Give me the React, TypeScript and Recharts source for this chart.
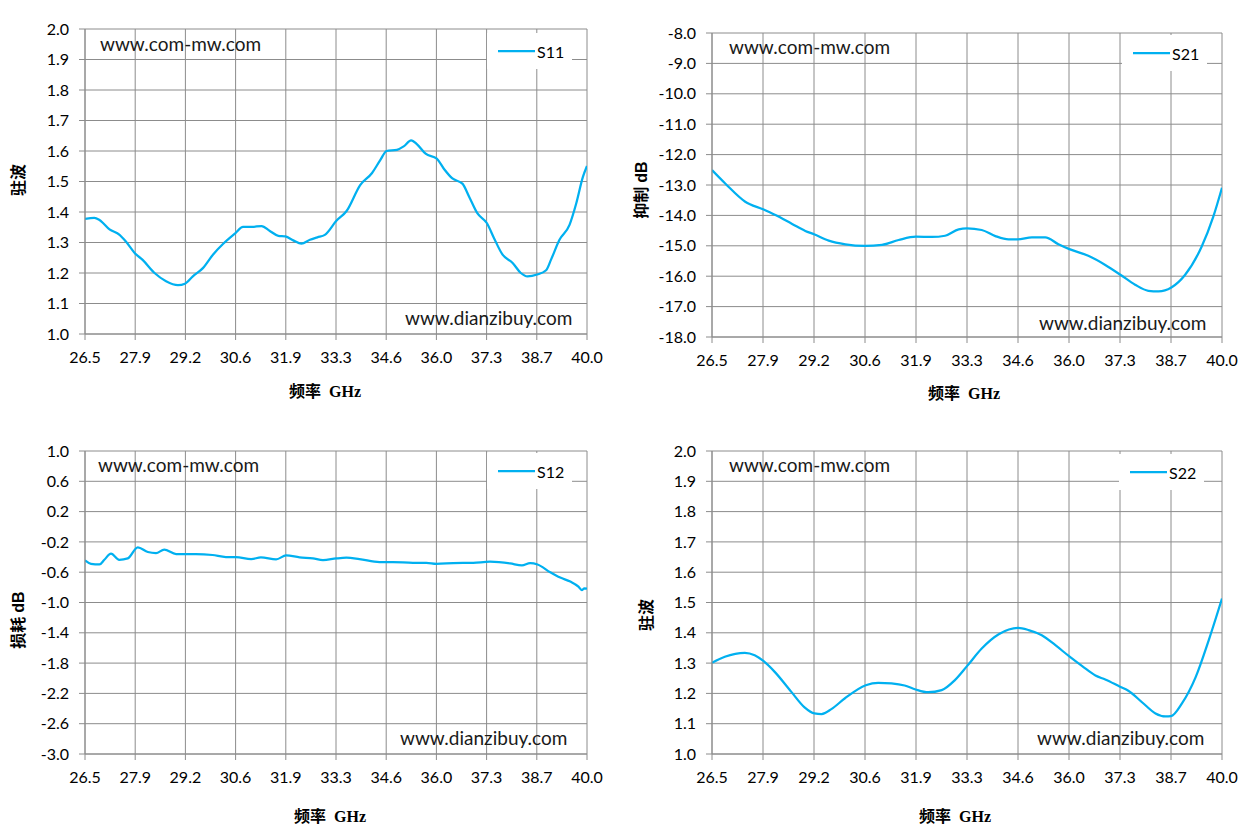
import React from 'react';
import { LineChart, Line, XAxis, YAxis, CartesianGrid, Legend } from 'recharts';

const xTicks = [26.5, 27.85, 29.2, 30.55, 31.9, 33.25, 34.6, 35.95, 37.3, 38.65, 40.0];
const xTickLabels = ['26.5', '27.9', '29.2', '30.6', '31.9', '33.3', '34.6', '36.0', '37.3', '38.7', '40.0'];

const vswrTicks = [1.0, 1.1, 1.2, 1.3, 1.4, 1.5, 1.6, 1.7, 1.8, 1.9, 2.0];
const s21Ticks = [-18, -17, -16, -15, -14, -13, -12, -11, -10, -9, -8];
const s12Ticks = [-3.0, -2.6, -2.2, -1.8, -1.4, -1.0, -0.6, -0.2, 0.2, 0.6, 1.0];

const s11Freq = [26.5, 26.75, 26.89, 27.16, 27.43, 27.6, 27.84, 28.05, 28.37, 28.68, 29.0, 29.19, 29.4, 29.67, 29.94, 30.21, 30.54, 30.75, 30.98, 31.25, 31.47, 31.7, 31.89, 32.1, 32.32, 32.55, 32.75, 32.95, 33.26, 33.54, 33.9, 34.22, 34.44, 34.61, 34.89, 35.07, 35.27, 35.43, 35.66, 35.96, 36.15, 36.38, 36.65, 36.83, 37.05, 37.31, 37.5, 37.73, 38.0, 38.22, 38.4, 38.66, 38.9, 39.03, 39.26, 39.53, 39.71, 39.89, 40.0];
const s11Values = [1.377, 1.381, 1.374, 1.343, 1.325, 1.303, 1.265, 1.243, 1.2, 1.173, 1.16, 1.165, 1.189, 1.216, 1.26, 1.295, 1.33, 1.351, 1.351, 1.354, 1.338, 1.322, 1.32, 1.307, 1.296, 1.309, 1.317, 1.325, 1.371, 1.404, 1.488, 1.528, 1.57, 1.6, 1.604, 1.615, 1.635, 1.622, 1.591, 1.575, 1.542, 1.51, 1.493, 1.45, 1.396, 1.363, 1.314, 1.26, 1.233, 1.2, 1.189, 1.195, 1.209, 1.243, 1.309, 1.358, 1.428, 1.515, 1.551];

const s21Freq = [26.5, 26.85, 27.38, 27.85, 28.18, 28.62, 28.97, 29.2, 29.59, 30.03, 30.55, 31.0, 31.44, 31.9, 32.32, 32.67, 33.03, 33.25, 33.64, 34.0, 34.35, 34.59, 34.97, 35.32, 35.67, 35.96, 36.46, 36.91, 37.32, 37.7, 38.05, 38.32, 38.66, 39.02, 39.46, 39.77, 40.0];
const s21Values = [-12.51, -12.95, -13.55, -13.8, -13.99, -14.28, -14.51, -14.62, -14.83, -14.95, -15.0, -14.97, -14.81, -14.7, -14.71, -14.67, -14.46, -14.43, -14.48, -14.68, -14.79, -14.79, -14.72, -14.72, -14.95, -15.11, -15.33, -15.63, -15.96, -16.28, -16.48, -16.5, -16.37, -15.96, -15.03, -14.04, -13.09];

const s12Freq = [26.5, 26.66, 26.89, 27.02, 27.2, 27.42, 27.65, 27.92, 28.19, 28.41, 28.63, 28.95, 29.22, 29.48, 29.93, 30.29, 30.56, 30.97, 31.23, 31.64, 31.91, 32.27, 32.63, 32.9, 33.26, 33.53, 33.88, 34.42, 34.78, 35.32, 35.68, 35.95, 36.4, 36.94, 37.39, 37.93, 38.25, 38.47, 38.67, 39.01, 39.28, 39.55, 39.77, 39.86, 39.93, 40.0];
const s12Values = [-0.444, -0.489, -0.498, -0.436, -0.356, -0.436, -0.418, -0.271, -0.333, -0.347, -0.302, -0.36, -0.36, -0.36, -0.373, -0.4, -0.4, -0.427, -0.404, -0.431, -0.378, -0.404, -0.418, -0.44, -0.418, -0.409, -0.427, -0.467, -0.467, -0.476, -0.476, -0.489, -0.48, -0.476, -0.462, -0.484, -0.511, -0.48, -0.498, -0.6, -0.671, -0.724, -0.791, -0.836, -0.813, -0.818];

const s22Freq = [26.5, 26.84, 27.37, 27.63, 27.86, 28.16, 28.6, 28.95, 29.21, 29.4, 29.66, 30.02, 30.57, 30.9, 31.25, 31.6, 31.89, 32.22, 32.58, 32.93, 33.25, 33.64, 34.09, 34.6, 34.88, 35.23, 35.59, 35.95, 36.3, 36.65, 36.91, 37.3, 37.53, 37.89, 38.24, 38.5, 38.65, 38.94, 39.3, 39.65, 40.0];
const s22Values = [1.301, 1.321, 1.334, 1.326, 1.307, 1.271, 1.205, 1.154, 1.134, 1.132, 1.148, 1.184, 1.227, 1.235, 1.233, 1.226, 1.213, 1.204, 1.211, 1.244, 1.29, 1.348, 1.395, 1.416, 1.409, 1.392, 1.359, 1.323, 1.29, 1.259, 1.246, 1.222, 1.208, 1.17, 1.134, 1.124, 1.125, 1.167, 1.253, 1.376, 1.513];

const LINE_COLOR = '#00B0F0';
const GRID = '#8c8c8c';
const TICK_FONT = 'Lato, "Noto Sans", sans-serif';
const TITLE_FONT = '"Liberation Serif", "Noto Sans CJK SC", serif';

const build = (f: number[], v: number[]) => f.map((x, i) => ({ f: x, v: v[i] }));

type PanelProps = {
  left: number;
  top: number;
  width: number;
  height: number;
  margin: { top: number; right: number; left: number; bottom: number };
  yWidth: number;
  data: { f: number; v: number }[];
  name: string;
  yTicks: number[];
  yDomain: [number, number];
  legendPos: { left: number; top: number };
  yTitle: React.ReactNode;
  yTitlePos: { x: number; y: number };
  xTitlePos: { x: number; y: number };
  wm1: { x: number; y: number };
  wm2: { x: number; y: number };
};

const Panel = (p: PanelProps) => {
  const legendContent = () => (
    <div style={{ display: 'flex', alignItems: 'center', height: 36, width: 85, background: '#fff' }}>
      <svg width={48} height={6} style={{ display: 'block' }}>
        <line x1={11} y1={3} x2={48} y2={3} stroke={LINE_COLOR} strokeWidth={2.25} />
      </svg>
      <span style={{ fontFamily: TICK_FONT, fontSize: 16, color: '#000', marginLeft: 2 }}>{p.name}</span>
    </div>
  );
  const wmStyle: React.CSSProperties = {
    position: 'absolute',
    fontFamily: TICK_FONT,
    fontSize: 19,
    lineHeight: '20px',
    color: '#1a1a1a',
    whiteSpace: 'nowrap',
  };
  return (
    <div style={{ position: 'absolute', left: p.left, top: p.top, width: p.width, height: p.height }}>
      <LineChart width={p.width} height={p.height} data={p.data} margin={p.margin}>
        <CartesianGrid stroke={GRID} strokeWidth={1} />
        <XAxis
          dataKey="f"
          type="number"
          domain={[26.5, 40]}
          ticks={xTicks}
          interval={0}
          tickFormatter={(_v: number, i: number) => xTickLabels[i]}
          tick={{ fill: '#000', fontSize: 16, fontFamily: TICK_FONT }}
          tickLine={{ stroke: GRID }}
          axisLine={{ stroke: GRID }}
          tickSize={6}
          tickMargin={12}
          height={30}
          allowDataOverflow
        />
        <YAxis
          type="number"
          domain={p.yDomain}
          ticks={p.yTicks}
          interval={0}
          tickFormatter={(v: number) => v.toFixed(1)}
          tick={{ fill: '#000', fontSize: 16, fontFamily: TICK_FONT }}
          tickLine={{ stroke: GRID }}
          axisLine={{ stroke: GRID }}
          tickSize={6}
          tickMargin={10}
          width={p.yWidth}
          allowDataOverflow
        />
        <Legend
          verticalAlign="middle"
          align="center"
          layout="horizontal"
          content={legendContent}
          wrapperStyle={{ left: p.legendPos.left, top: p.legendPos.top, width: 85, height: 36 }}
        />
        <Line
          type="monotone"
          dataKey="v"
          name={p.name}
          stroke={LINE_COLOR}
          strokeWidth={2.25}
          dot={false}
          activeDot={false}
          isAnimationActive={false}
        />
      </LineChart>
      <div style={{ ...wmStyle, left: p.wm1.x, top: p.wm1.y - 10 }}>www.com-mw.com</div>
      <div style={{ ...wmStyle, left: p.wm2.x, top: p.wm2.y - 10 }}>www.dianzibuy.com</div>
      <div
        style={{
          position: 'absolute',
          left: p.xTitlePos.x,
          top: p.xTitlePos.y,
          transform: 'translate(-50%, -50%)',
          fontFamily: TITLE_FONT,
          fontWeight: 'bold',
          fontSize: 16,
          whiteSpace: 'nowrap',
          color: '#000',
        }}
      >
        频率&nbsp;&nbsp;GHz
      </div>
      <div
        style={{
          position: 'absolute',
          left: p.yTitlePos.x,
          top: p.yTitlePos.y,
          transform: 'translate(-50%, -50%) rotate(-90deg)',
          fontFamily: TITLE_FONT,
          fontWeight: 'bold',
          fontSize: 16,
          whiteSpace: 'nowrap',
          color: '#000',
        }}
      >
        {p.yTitle}
      </div>
    </div>
  );
};

const dB = <span style={{ fontFamily: '"Liberation Sans", Arial, sans-serif' }}>dB</span>;

export default function App() {
  return (
    <div style={{ position: 'absolute', left: 0, top: 0, width: 1251, height: 837, background: '#fff' }}>
      <Panel
        left={0}
        top={0}
        width={625}
        height={415}
        margin={{ top: 29, right: 38, left: 0, bottom: 51 }}
        yWidth={85}
        data={build(s11Freq, s11Values)}
        name="S11"
        yTicks={vswrTicks}
        yDomain={[1.0, 2.0]}
        legendPos={{ left: 487, top: 33 }}
        yTitle="驻波"
        yTitlePos={{ x: 17, y: 180 }}
        xTitlePos={{ x: 325, y: 390 }}
        wm1={{ x: 100, y: 44 }}
        wm2={{ x: 405, y: 318 }}
      />
      <Panel
        left={625}
        top={0}
        width={626}
        height={415}
        margin={{ top: 33, right: 29, left: 0, bottom: 48 }}
        yWidth={87}
        data={build(s21Freq, s21Values)}
        name="S21"
        yTicks={s21Ticks}
        yDomain={[-18, -8]}
        legendPos={{ left: 497, top: 35 }}
        yTitle={<span>抑制 {dB}</span>}
        yTitlePos={{ x: 15, y: 190 }}
        xTitlePos={{ x: 339, y: 392 }}
        wm1={{ x: 104, y: 47 }}
        wm2={{ x: 414, y: 323 }}
      />
      <Panel
        left={0}
        top={415}
        width={625}
        height={422}
        margin={{ top: 36, right: 38, left: 0, bottom: 53 }}
        yWidth={85}
        data={build(s12Freq, s12Values)}
        name="S12"
        yTicks={s12Ticks}
        yDomain={[-3.0, 1.0]}
        legendPos={{ left: 487, top: 38 }}
        yTitle={<span>损耗 {dB}</span>}
        yTitlePos={{ x: 17, y: 205 }}
        xTitlePos={{ x: 330, y: 400 }}
        wm1={{ x: 98, y: 50 }}
        wm2={{ x: 400, y: 323 }}
      />
      <Panel
        left={625}
        top={415}
        width={626}
        height={422}
        margin={{ top: 36, right: 29, left: 0, bottom: 53 }}
        yWidth={87}
        data={build(s22Freq, s22Values)}
        name="S22"
        yTicks={vswrTicks}
        yDomain={[1.0, 2.0]}
        legendPos={{ left: 494, top: 39 }}
        yTitle="驻波"
        yTitlePos={{ x: 20, y: 200 }}
        xTitlePos={{ x: 330, y: 400 }}
        wm1={{ x: 104, y: 50 }}
        wm2={{ x: 412, y: 323 }}
      />
    </div>
  );
}
